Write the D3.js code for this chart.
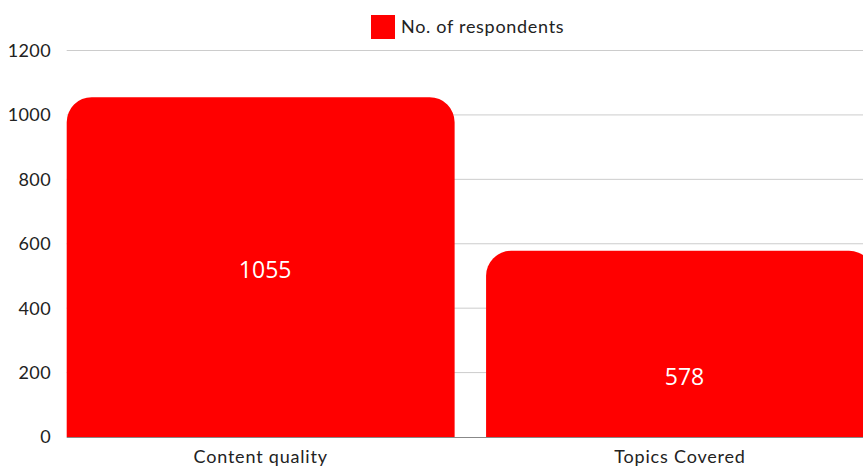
<!DOCTYPE html>
<html>
<head>
<meta charset="utf-8">
<script src="https://cdn.jsdelivr.net/npm/d3@7"></script>
<style>
  html, body { margin: 0; padding: 0; background: #fff; overflow: hidden; }
  svg { display: block; }
</style>
</head>
<body>
<svg id="chart"></svg>
<script>
const categories = ["Content quality", "Topics Covered"];
const respondents = [1055, 578];
const labelAt = [518, 186]; // where the value labels sit, in data units
const yTicks = [0, 200, 400, 600, 800, 1000, 1200];
const seriesName = "No. of respondents";

const width = 880;
const height = 467;
const svg = d3.select("#chart").attr("width", width).attr("height", height);

const margin = { top: 50.5, right: 6, bottom: 30, left: 66.7 };
const barColor = "#ff0000";
const axisFont = "Lato, 'Open Sans', sans-serif";

const x = d3
  .scaleBand()
  .domain(categories)
  .range([margin.left, width - margin.right])
  .paddingInner(0.075)
  .paddingOuter(0);

const y = d3
  .scaleLinear()
  .domain([0, 1200])
  .range([height - margin.bottom, margin.top]);

// gridlines
svg.append("g")
  .selectAll("line")
  .data(yTicks.filter((d) => d > 0))
  .join("line")
  .attr("x1", margin.left)
  .attr("x2", width)
  .attr("y1", (d) => y(d))
  .attr("y2", (d) => y(d))
  .attr("stroke", "#cccccc")
  .attr("stroke-width", 1);

// y tick labels
svg.append("g")
  .selectAll("text")
  .data(yTicks)
  .join("text")
  .attr("x", 51)
  .attr("y", (d) => y(d))
  .attr("dy", "0.36em")
  .attr("text-anchor", "end")
  .attr("font-family", axisFont)
  .attr("font-size", 18)
  .attr("letter-spacing", 0.4)
  .attr("fill", "#222")
  .text((d) => d);

// bars with rounded top corners
const topRounded = (x0, y0, w, h, r) => {
  r = Math.min(r, w / 2, h);
  return `M${x0},${y0 + h}V${y0 + r}A${r},${r} 0 0 1 ${x0 + r},${y0}` +
    `H${x0 + w - r}A${r},${r} 0 0 1 ${x0 + w},${y0 + r}V${y0 + h}Z`;
};

svg.append("g")
  .selectAll("path")
  .data(respondents)
  .join("path")
  .attr("d", (d, i) => {
    const x0 = x(categories[i]);
    return topRounded(x0, y(d), x.bandwidth(), y(0) - y(d), 25);
  })
  .attr("fill", barColor);

// baseline
svg.append("line")
  .attr("x1", margin.left)
  .attr("x2", width)
  .attr("y1", y(0) + 0.5)
  .attr("y2", y(0) + 0.5)
  .attr("stroke", "#888")
  .attr("stroke-width", 1);

// value labels
svg.append("g")
  .selectAll("text")
  .data(respondents)
  .join("text")
  .attr("x", (d, i) => x(categories[i]) + x.bandwidth() / 2 + 4.5)
  .attr("y", (d, i) => y(labelAt[i]))
  .attr("dy", "0.36em")
  .attr("text-anchor", "middle")
  .attr("font-family", "'Open Sans', sans-serif")
  .attr("font-size", 23)
  .attr("fill", "#fff")
  .text((d) => d);

// category labels
svg.append("g")
  .selectAll("text")
  .data(categories)
  .join("text")
  .attr("x", (d) => x(d) + x.bandwidth() / 2)
  .attr("y", 463)
  .attr("text-anchor", "middle")
  .attr("font-family", axisFont)
  .attr("font-size", 18)
  .attr("letter-spacing", 0.8)
  .attr("fill", "#222")
  .text((d) => d);

// legend
const legend = svg.append("g").attr("transform", "translate(371,15)");
legend.append("rect")
  .attr("width", 24)
  .attr("height", 24)
  .attr("fill", barColor);
legend.append("text")
  .attr("x", 30)
  .attr("y", 12)
  .attr("dy", "0.36em")
  .attr("font-family", axisFont)
  .attr("font-size", 18)
  .attr("letter-spacing", 0.7)
  .attr("fill", "#222")
  .text(seriesName);
</script>
</body>
</html>
